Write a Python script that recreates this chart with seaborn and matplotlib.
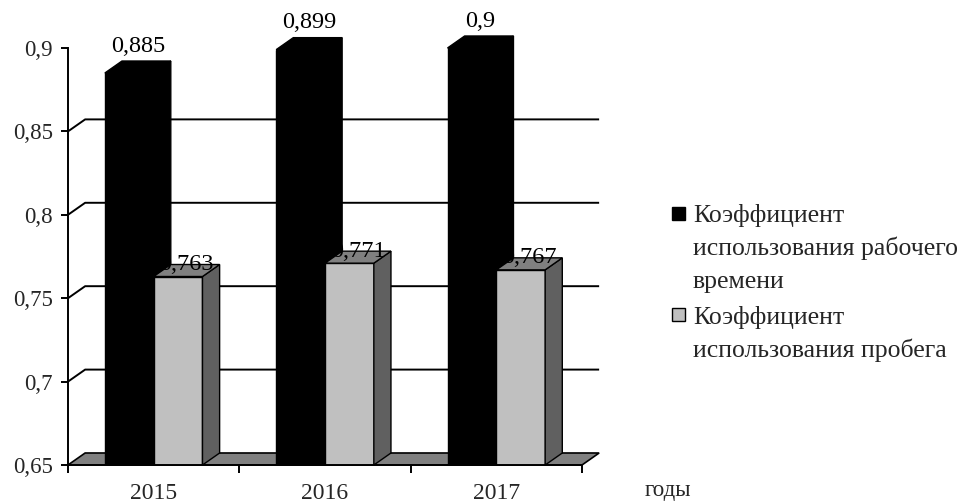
import matplotlib
matplotlib.use("Agg")
import matplotlib.pyplot as plt
import seaborn as sns
import pandas as pd
from matplotlib.patches import Polygon, Rectangle

# ---- data -------------------------------------------------------------
years = ["2015", "2016", "2017"]
work_time = [0.885, 0.899, 0.900]
mileage = [0.763, 0.771, 0.767]
series_names = [
    "Коэффициент\nиспользования рабочего\nвремени",
    "Коэффициент\nиспользования пробега",
]
y_ticks = [0.65, 0.70, 0.75, 0.80, 0.85, 0.90]
x_title = "годы"


def fmt(v):
    return f"{v:g}".replace(".", ",")


# ---- style ------------------------------------------------------------
sns.set_theme(style="white")
plt.rcParams["font.family"] = ["Liberation Serif", "DejaVu Serif"]
FS_TICK = 16.5
FS_YEAR = 17
FS_VAL = 17.5
FS_LEG = 18.5
FS_TITLE = 16.5
face_colors = ["#000000", "#C0C0C0"]
side_colors = ["#000000", "#606060"]
top_colors = ["#000000", "#808080"]
floor_color = "#808080"
DX, DY = 0.10, 0.0072      # depth offset of the pseudo-3D boxes
Y0, Y1 = 0.65, 0.90

W, H = 969, 503
fig = plt.figure(figsize=(W / 100, H / 100), dpi=100)
ax = fig.add_axes([68 / W, (H - 465) / H, 514 / W, 417 / H])

df = pd.DataFrame({
    "year": years * 2,
    "value": work_time + mileage,
    "series": [series_names[0]] * len(years) + [series_names[1]] * len(years),
})

sns.barplot(data=df, x="year", y="value", hue="series", hue_order=series_names,
            palette=face_colors, width=0.57, ax=ax, legend=False,
            edgecolor="black", linewidth=1.0, saturation=1, errorbar=None)

ax.set_xlim(-0.5, 2.5)
ax.set_ylim(Y0, Y1)

# back wall gridlines with their short diagonals on the side wall
for y in y_ticks[1:-1]:
    ax.plot([-0.5, -0.5 + DX, 2.5 + DX], [y, y + DY, y + DY], color="black",
            lw=1.4, zorder=0.5, clip_on=False, solid_capstyle="butt")

# floor
ax.add_patch(Polygon([(-0.5, Y0), (2.5, Y0), (2.5 + DX, Y0 + DY), (-0.5 + DX, Y0 + DY)],
                     closed=True, facecolor=floor_color, edgecolor="black",
                     lw=1.2, zorder=1, clip_on=False))

# 3D top and side faces of every bar, taken from the bar geometry
n = len(years)
bars = [p for p in ax.patches if isinstance(p, Rectangle) and p.get_width() < 1]
for i, bar in enumerate(bars):
    s = 0 if i < n else 1
    z = 3 + s
    bar.set_zorder(z)
    x0 = bar.get_x()
    x1 = x0 + bar.get_width()
    v = bar.get_y() + bar.get_height()
    side = Polygon([(x1, Y0), (x1 + DX, Y0 + DY), (x1 + DX, v + DY), (x1, v)],
                   closed=True, facecolor=side_colors[s], edgecolor="black", lw=1.0,
                   zorder=z, clip_on=False)
    top = Polygon([(x0, v), (x0 + DX, v + DY), (x1 + DX, v + DY), (x1, v)],
                  closed=True, facecolor=top_colors[s], edgecolor="black", lw=1.0,
                  zorder=z, clip_on=False)
    ax.add_patch(side)
    ax.add_patch(top)
    cx = x0 + bar.get_width() / 2 + DX / 2
    if s == 0:
        ax.annotate(fmt(v), (cx, v + DY), xytext=(0, 3), textcoords="offset points",
                    ha="center", va="bottom", fontsize=FS_VAL, color="black", zorder=10,
                    annotation_clip=False)
    else:
        ax.annotate(fmt(v), (cx, v + DY), xytext=(0, 0), textcoords="offset points",
                    ha="center", va="center", fontsize=FS_VAL, color="black", zorder=10,
                    annotation_clip=False)

# axes
for side_name in ["top", "right"]:
    ax.spines[side_name].set_visible(False)
for side_name in ["left", "bottom"]:
    ax.spines[side_name].set_color("black")
    ax.spines[side_name].set_linewidth(1.4)
    ax.spines[side_name].set_zorder(6)

ax.set_yticks(y_ticks, [fmt(t) for t in y_ticks])
ax.set_xticks(range(n), years)
ax.set_xticks([-0.5, 0.5, 1.5, 2.5], minor=True)
ax.tick_params(axis="y", which="major", direction="out", length=5, width=1.4,
               color="black", pad=6, labelsize=FS_TICK, left=True)
ax.tick_params(axis="x", which="major", length=0, pad=13, labelsize=FS_YEAR)
ax.tick_params(axis="x", which="minor", direction="out", length=6, width=1.4,
               color="black", bottom=True)
ax.set_xlabel("")
ax.set_ylabel("")
ax.grid(False)


# legend, drawn line by line
def px(x, y):
    return x / W, (H - y) / H


LINE = 33
entries = [(207, 222), (308, 324)]
for s, (sq_top, base_y) in enumerate(entries):
    fx, fy = px(672, sq_top + 13)
    fig.patches.append(Rectangle((fx, fy), 13 / W, 13 / H, transform=fig.transFigure,
                                 facecolor=face_colors[s], edgecolor="black", lw=1.0))
    for k, line in enumerate(series_names[s].split("\n")):
        tx, ty = px(693, base_y + k * LINE)
        fig.text(tx, ty, line, ha="left", va="baseline", fontsize=FS_LEG)

gx, gy = px(645, 496)
fig.text(gx, gy, x_title, ha="left", va="baseline", fontsize=FS_TITLE)

fig.savefig("out.png", dpi=100, facecolor="white")
